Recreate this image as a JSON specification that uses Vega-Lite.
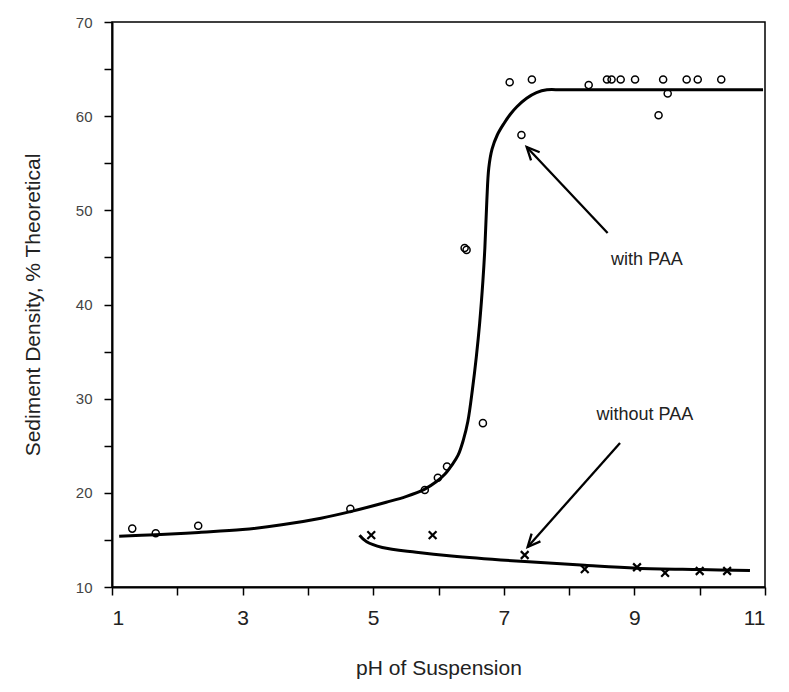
{
  "$schema": "https://vega.github.io/schema/vega-lite/v6.json",
  "width": 653,
  "height": 565,
  "autosize": "none",
  "padding": {"left": 112, "top": 22, "right": 24, "bottom": 105},
  "background": "white",
  "config": {
    "view": {"stroke": "#000", "strokeWidth": 1.5},
    "font": "Liberation Sans"
  },
  "datasets": {
    "paa": [
      {"ph": 1.31, "density": 16.2}, {"ph": 1.67, "density": 15.7}, {"ph": 2.32, "density": 16.5},
      {"ph": 4.65, "density": 18.3}, {"ph": 5.79, "density": 20.3}, {"ph": 5.99, "density": 21.6},
      {"ph": 6.13, "density": 22.8}, {"ph": 6.40, "density": 46.0}, {"ph": 6.43, "density": 45.8},
      {"ph": 6.68, "density": 27.4}, {"ph": 7.09, "density": 63.6}, {"ph": 7.27, "density": 58.0},
      {"ph": 7.43, "density": 63.9}, {"ph": 8.30, "density": 63.3}, {"ph": 8.58, "density": 63.9},
      {"ph": 8.65, "density": 63.9}, {"ph": 8.79, "density": 63.9}, {"ph": 9.01, "density": 63.9},
      {"ph": 9.37, "density": 60.1}, {"ph": 9.44, "density": 63.9}, {"ph": 9.51, "density": 62.4},
      {"ph": 9.80, "density": 63.9}, {"ph": 9.97, "density": 63.9}, {"ph": 10.33, "density": 63.9}
    ],
    "nopaa": [
      {"ph": 4.97, "density": 15.5}, {"ph": 5.91, "density": 15.5}, {"ph": 7.32, "density": 13.4},
      {"ph": 8.24, "density": 11.9}, {"ph": 9.04, "density": 12.1}, {"ph": 9.47, "density": 11.5},
      {"ph": 10.0, "density": 11.7}, {"ph": 10.42, "density": 11.7}
    ],
    "curves": [
      {"series": "with PAA", "ph": 1.11, "density": 15.4},
      {"series": "with PAA", "ph": 1.67, "density": 15.55},
      {"series": "with PAA", "ph": 2.33, "density": 15.8},
      {"series": "with PAA", "ph": 3.0, "density": 16.1},
      {"series": "with PAA", "ph": 3.6, "density": 16.6},
      {"series": "with PAA", "ph": 4.2, "density": 17.3},
      {"series": "with PAA", "ph": 4.65, "density": 18.0},
      {"series": "with PAA", "ph": 5.2, "density": 19.0},
      {"series": "with PAA", "ph": 5.5, "density": 19.6},
      {"series": "with PAA", "ph": 5.79, "density": 20.4},
      {"series": "with PAA", "ph": 5.97, "density": 21.2},
      {"series": "with PAA", "ph": 6.10, "density": 22.0},
      {"series": "with PAA", "ph": 6.20, "density": 22.9},
      {"series": "with PAA", "ph": 6.30, "density": 24.0},
      {"series": "with PAA", "ph": 6.38, "density": 25.6},
      {"series": "with PAA", "ph": 6.45, "density": 27.6},
      {"series": "with PAA", "ph": 6.52, "density": 31.0},
      {"series": "with PAA", "ph": 6.58, "density": 34.5},
      {"series": "with PAA", "ph": 6.63, "density": 38.0},
      {"series": "with PAA", "ph": 6.68, "density": 42.5},
      {"series": "with PAA", "ph": 6.71, "density": 46.0},
      {"series": "with PAA", "ph": 6.74, "density": 51.0},
      {"series": "with PAA", "ph": 6.77, "density": 54.5},
      {"series": "with PAA", "ph": 6.82, "density": 56.5},
      {"series": "with PAA", "ph": 6.90, "density": 58.0},
      {"series": "with PAA", "ph": 7.0, "density": 59.2},
      {"series": "with PAA", "ph": 7.1, "density": 60.2},
      {"series": "with PAA", "ph": 7.2, "density": 61.0},
      {"series": "with PAA", "ph": 7.35, "density": 61.9},
      {"series": "with PAA", "ph": 7.5, "density": 62.5},
      {"series": "with PAA", "ph": 7.66, "density": 62.8},
      {"series": "with PAA", "ph": 7.9, "density": 62.8},
      {"series": "with PAA", "ph": 9.0, "density": 62.8},
      {"series": "with PAA", "ph": 10.97, "density": 62.8},
      {"series": "without PAA", "ph": 4.79, "density": 15.5},
      {"series": "without PAA", "ph": 4.9, "density": 14.8},
      {"series": "without PAA", "ph": 5.14, "density": 14.2},
      {"series": "without PAA", "ph": 5.66, "density": 13.7},
      {"series": "without PAA", "ph": 6.2, "density": 13.3},
      {"series": "without PAA", "ph": 7.32, "density": 12.7},
      {"series": "without PAA", "ph": 8.24, "density": 12.3},
      {"series": "without PAA", "ph": 9.04, "density": 12.0},
      {"series": "without PAA", "ph": 10.0, "density": 11.85},
      {"series": "without PAA", "ph": 10.77, "density": 11.75}
    ],
    "arrows": [
      {"seg": "a1", "ord": 1, "ph": 8.59, "density": 47.6},
      {"seg": "a1", "ord": 2, "ph": 7.35, "density": 56.73},
      {"seg": "h1", "ord": 1, "ph": 7.417, "density": 55.31},
      {"seg": "h1", "ord": 2, "ph": 7.35, "density": 56.73},
      {"seg": "h1", "ord": 3, "ph": 7.549, "density": 56.17},
      {"seg": "a2", "ord": 1, "ph": 8.78, "density": 25.3},
      {"seg": "a2", "ord": 2, "ph": 7.365, "density": 14.25},
      {"seg": "h2", "ord": 1, "ph": 7.561, "density": 14.85},
      {"seg": "h2", "ord": 2, "ph": 7.365, "density": 14.25},
      {"seg": "h2", "ord": 3, "ph": 7.426, "density": 15.67}
    ],
    "labels": [
      {"ph": 9.19, "density": 44.7, "text": "with PAA"},
      {"ph": 9.16, "density": 28.3, "text": "without PAA"}
    ]
  },
  "layer": [
    {
      "data": {"name": "curves"},
      "mark": {"type": "line", "color": "#000", "strokeWidth": 3, "interpolate": "catmull-rom"},
      "encoding": {
        "x": {
          "field": "ph", "type": "quantitative",
          "scale": {"domain": [1, 11], "nice": false, "zero": false},
          "axis": {
            "title": "pH of Suspension",
            "values": [1, 2, 3, 4, 5, 6, 7, 8, 9, 10, 11],
            "format": "d",
            "labelExpr": "datum.value % 2 == 1 ? datum.label : ''",
            "grid": false,
            "domainColor": "#000", "domainWidth": 2,
            "tickColor": "#000", "tickWidth": 1.5, "tickSize": 8,
            "labelFontSize": 21, "labelColor": "#222", "labelPadding": 12,
            "labelFont": "Liberation Sans",
            "titleFontSize": 21, "titleFontWeight": "normal", "titleColor": "#222",
            "titlePadding": 29, "titleFont": "Liberation Sans"
          }
        },
        "y": {
          "field": "density", "type": "quantitative",
          "scale": {"domain": [10, 70], "nice": false, "zero": false},
          "axis": {
            "title": "Sediment Density, % Theoretical",
            "values": [10, 15, 20, 25, 30, 35, 40, 45, 50, 55, 60, 65, 70],
            "format": "d",
            "labelExpr": "datum.value % 10 == 0 ? datum.label : ''",
            "grid": false,
            "domainColor": "#000", "domainWidth": 2,
            "tickColor": "#000", "tickWidth": 1.5, "tickSize": 8,
            "labelFontSize": 15, "labelColor": "#444", "labelPadding": 12,
            "labelFont": "Liberation Sans",
            "titleFontSize": 21, "titleFontWeight": "normal", "titleColor": "#222",
            "titlePadding": 32, "titleFont": "Liberation Sans"
          }
        },
        "detail": {"field": "series"}
      }
    },
    {
      "data": {"name": "paa"},
      "mark": {"type": "point", "shape": "circle", "filled": false, "color": "#000", "size": 50, "strokeWidth": 1.5, "opacity": 1},
      "encoding": {
        "x": {"field": "ph", "type": "quantitative"},
        "y": {"field": "density", "type": "quantitative"}
      }
    },
    {
      "data": {"name": "nopaa"},
      "mark": {"type": "point", "shape": "M-1,-1L1,1M-1,1L1,-1", "filled": false, "color": "#000", "size": 60, "strokeWidth": 2.2, "opacity": 1},
      "encoding": {
        "x": {"field": "ph", "type": "quantitative"},
        "y": {"field": "density", "type": "quantitative"}
      }
    },
    {
      "data": {"name": "arrows"},
      "mark": {"type": "line", "color": "#000", "strokeWidth": 2.3},
      "encoding": {
        "x": {"field": "ph", "type": "quantitative"},
        "y": {"field": "density", "type": "quantitative"},
        "detail": {"field": "seg"},
        "order": {"field": "ord", "type": "quantitative"}
      }
    },
    {
      "data": {"name": "labels"},
      "mark": {"type": "text", "fontSize": 18, "font": "Liberation Sans", "color": "#222", "align": "center", "baseline": "middle"},
      "encoding": {
        "x": {"field": "ph", "type": "quantitative"},
        "y": {"field": "density", "type": "quantitative"},
        "text": {"field": "text"}
      }
    }
  ]
}
